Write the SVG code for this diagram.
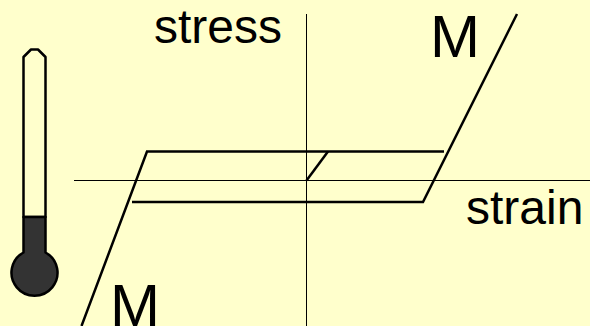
<svg xmlns="http://www.w3.org/2000/svg" width="590" height="326" viewBox="0 0 590 326">
<style>
.t{font-family:"Liberation Sans",Arial,sans-serif;fill:#000}
.ax{fill:none;stroke:#000;stroke-width:1}
.c{fill:none;stroke:#000;stroke-width:2.5}
.th{stroke:#000;stroke-width:2.5;stroke-linejoin:round}
</style>
<rect width="590" height="326" fill="#ffffcc"/>
<g id="thermometer">
<path class="th" fill="#ffffcc" d="M23.500 217V57L31 49.500H38L45.500 57V217Z"/>
<path class="th" fill="#333333" d="M23.500 217H45.500V252.500A23 23 0 1 1 23.500 252.500Z"/>
</g>
<g id="connectors">
<path class="ax" d="M74 180.500H590"/>
<path class="ax" d="M306.500 14V326"/>
<path class="c" d="M444 151.500H147L81.500 326"/>
<path class="c" d="M132 202H423L517 14"/>
<path class="c" d="M306.500 180.500L328 151.500"/>
</g>
<g id="labels">
<text class="t" x="154" y="43" font-size="48">stress</text>
<text class="t" x="430" y="57" font-size="60">M</text>
<text class="t" x="466" y="224" font-size="48">strain</text>
<text class="t" x="110" y="325.500" font-size="60">M</text>
</g>
</svg>
